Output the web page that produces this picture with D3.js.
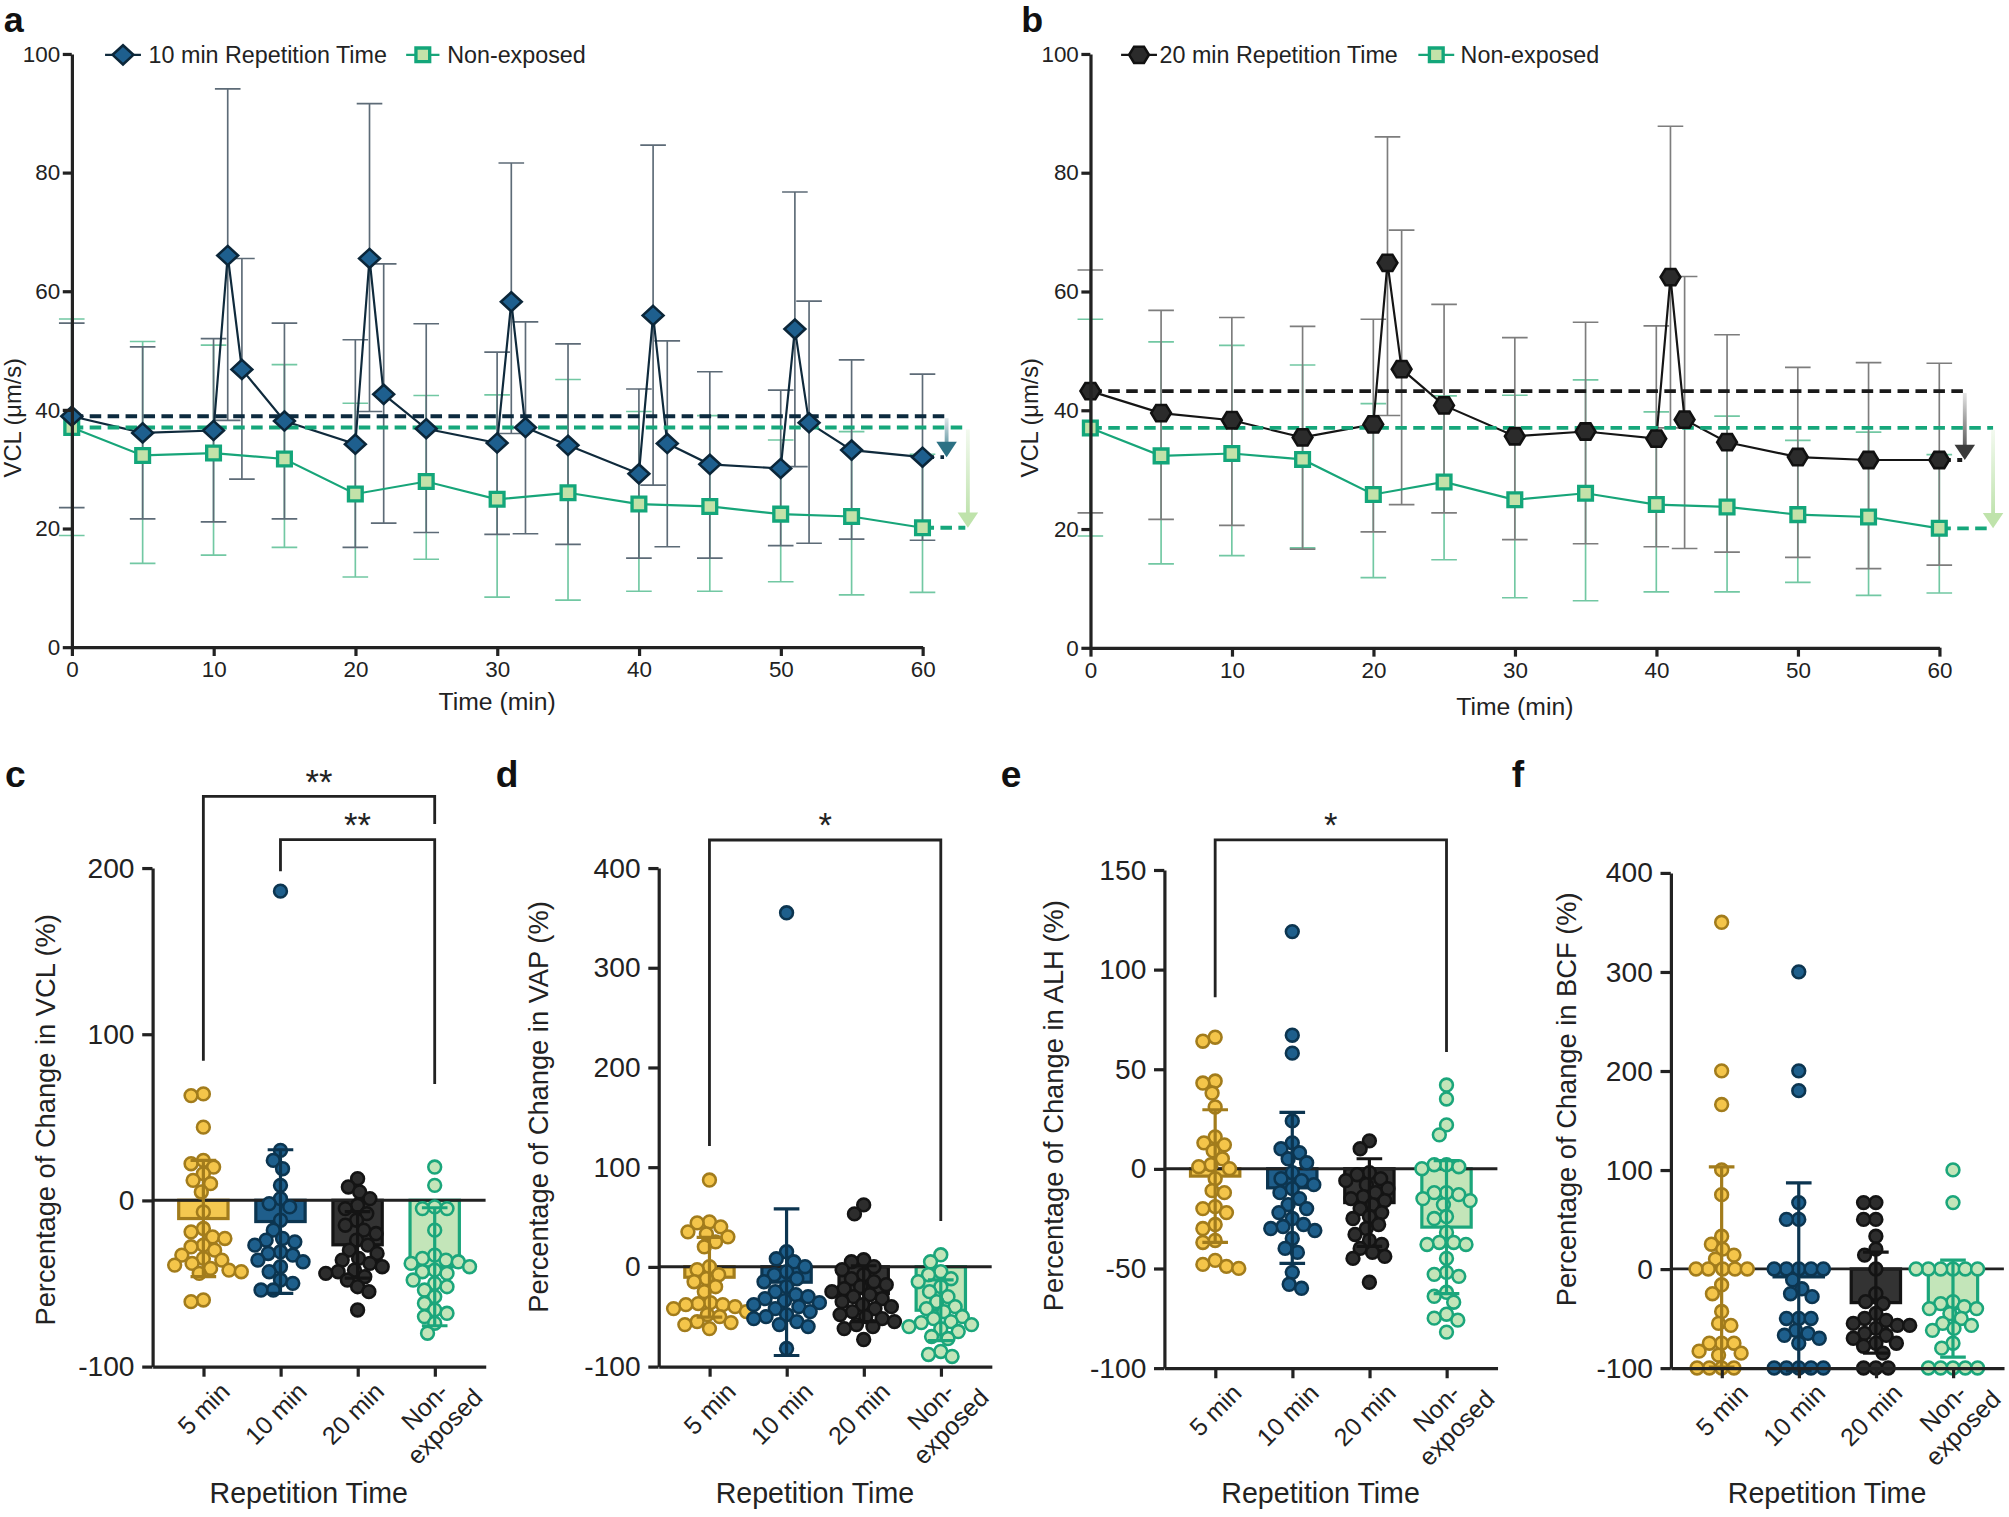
<!DOCTYPE html>
<html><head><meta charset="utf-8">
<script src="https://cdn.jsdelivr.net/npm/d3@7/dist/d3.min.js"></script>
<style>html,body{margin:0;padding:0;background:#fff}svg{display:block}</style>
</head><body>
<svg id="chart" width="2009" height="1517" viewBox="0 0 1568 1184" xmlns="http://www.w3.org/2000/svg"></svg>
<script>
// ================= DATA =================
// Panel a : 10 min repetition time (VCL, µm/s)
const timesA = [0,5,10,11,12,15,20,21,22,25,30,31,32,35,40,41,42,45,50,51,52,55,60];
const meanA  = [38.9,36.1,36.5,66.0,46.8,38.1,34.2,65.5,42.6,36.8,34.4,58.2,37.0,34.0,29.2,55.9,34.3,30.8,30.1,53.6,37.8,33.2,32.0];
const upperA = [54.6,50.6,52.0,94.1,65.5,54.6,51.8,91.6,64.6,54.5,49.7,81.6,54.8,51.1,43.5,84.6,51.6,46.4,43.3,76.7,58.3,48.4,46.0];
const lowerA = [23.5,21.6,21.1,38.2,28.3,21.6,16.8,39.7,20.9,19.3,19.0,36.0,19.1,17.3,15.0,27.3,16.9,15.0,17.1,30.4,17.5,18.2,18.0];
// Panel b : 20 min repetition time
const timesB = [0,5,10,15,20,21,22,25,30,35,40,41,42,45,50,55,60];
const meanB  = [43.2,39.5,38.3,35.4,37.6,64.8,46.9,40.8,35.6,36.4,35.2,62.4,38.4,34.6,32.1,31.6,31.6];
const upperB = [63.6,56.8,55.6,54.1,55.3,86.0,70.3,57.8,52.2,54.8,54.2,87.8,62.5,52.7,47.2,48.0,47.9];
const lowerB = [22.7,21.6,20.6,16.6,19.5,39.1,24.1,22.7,18.2,17.5,17.0,37.0,16.7,16.1,15.2,13.3,13.9];
// Non-exposed (same in a and b)
const timesNE = [0,5,10,15,20,25,30,35,40,45,50,55,60];
const meanNE  = [37.0,32.3,32.7,31.7,25.8,27.9,24.9,26.0,24.1,23.7,22.4,22.0,20.1];
const upperNE = [55.3,51.5,50.9,47.6,41.1,42.4,42.5,45.1,39.7,39.0,34.9,36.3,32.5];
const lowerNE = [18.8,14.1,15.5,16.8,11.8,14.8,8.4,7.9,9.4,9.4,11.0,8.8,9.2];
const timeTicks = [0,10,20,30,40,50,60];
const vclTicks = [0,20,40,60,80,100];

// Bottom panels
const categories = ["5 min","10 min","20 min","Non-exposed"];
// c: VCL
const vcl5  = [64,63,44,24,22,20,16,12,10,5,-7,-17,-19,-22,-23,-27,-28,-30,-33,-35,-36,-38,-39,-41,-42,-43,-44,-60,-61];
const vcl10 = [186,30,24,19,9,1,-2,-4,-12,-18,-23,-24,-25,-27,-31,-32,-33,-36,-37,-40,-43,-48,-50,-54,-54];
const vcl20 = [13,8,5,1,-3,-5,-8,-12,-15,-18,-20,-24,-27,-30,-32,-35,-36,-38,-40,-42,-43,-44,-46,-48,-52,-55,-66];
const vclNE = [20,9,-4,-5,-5,-18,-33,-35,-36,-37,-38,-40,-42,-43,-44,-48,-50,-52,-54,-58,-62,-66,-68,-70,-74,-80];
const vclMean = [-11,-12.8,-26.8,-40];
const vclSD   = [35,43.2,20,35.5];
const vclTicks2 = [-100,0,100,200];
const vclBrackets = [[0,3,243,84,226.5,"**"],[1,3,217,198,70,"**"]];
// d: VAP
const vap5  = [87,45,44,40,35,33,30,25,20,0,-3,-8,-12,-15,-20,-25,-36,-37,-38,-38,-40,-42,-45,-48,-50,-55,-56,-58,-62];
const vap10 = [355,15,8,5,0,-5,-8,-12,-15,-20,-25,-28,-30,-32,-34,-36,-38,-40,-42,-45,-48,-50,-52,-55,-58,-60,-82];
const vap20 = [62,53,7,5,0,-3,-8,-12,-15,-18,-20,-22,-25,-28,-30,-32,-35,-38,-40,-42,-45,-48,-50,-52,-55,-58,-60,-62,-73];
const vapNE = [12,5,-5,-8,-12,-15,-20,-25,-30,-35,-40,-42,-45,-50,-52,-55,-56,-58,-60,-62,-65,-70,-72,-85,-88,-90];
const vapMean = [-10.5,-15.5,-27,-43.6];
const vapSD   = [40,73.5,28,30.4];
const vapTicks = [-100,0,100,200,300,400];
const vapBrackets = [[0,3,428,121,46,"*"]];
// e: ALH
const alh5  = [66,64,44,43,38,31,16,13,12,9,5,2,1,0,-5,-11,-12,-19,-20,-22,-28,-30,-36,-37,-46,-49,-48,-50];
const alh10 = [119,67,58,24,13,10,8,5,3,-2,-5,-6,-8,-10,-12,-15,-18,-20,-22,-25,-28,-29,-30,-31,-35,-40,-42,-52,-58,-60];
const alh20 = [14,10,-2,-3,-5,-6,-8,-10,-12,-14,-15,-16,-18,-20,-22,-24,-25,-28,-30,-33,-36,-38,-40,-42,-44,-45,-57];
const alhNE = [42,35,22,17,2,2,1,0,-12,-12,-13,-15,-16,-18,-24,-25,-32,-37,-37,-38,-38,-45,-52,-53,-54,-62,-64,-67,-73,-75,-76,-82];
const alhMean = [-3.7,-9.6,-17,-29.3];
const alhSD   = [33.3,37.9,22,33.4];
const alhTicks = [-100,-50,0,50,100,150];
const alhBrackets = [[0,3,165,86,58.6,"*"]];
// f: BCF
const bcf5  = [350,200,166,100,75,33,25,20,14,10,0,0,0,0,0,-16,-25,-43,-55,-57,-75,-75,-75,-83,-85,-87,-100,-100,-100,-100];
const bcf10 = [300,200,180,67,50,50,0,0,0,0,0,-11,-20,-25,-28,-50,-50,-50,-62,-65,-67,-70,-75,-100,-100,-100,-100,-100];
const bcf20 = [67,67,50,50,33,20,14,0,-25,-33,-35,-45,-50,-52,-55,-57,-57,-60,-65,-67,-70,-75,-75,-78,-85,-100,-100,-100];
const bcfNE = [100,67,0,0,0,0,0,0,-33,-35,-38,-40,-40,-45,-50,-55,-57,-60,-62,-75,-80,-100,-100,-100,-100,-100];
const bcfMean = [2,-8,-34,-40];
const bcfSD   = [101,95,51,49];
const bcfTicks = [-100,0,100,200,300,400];

// ================= DRAWING =================
const FONT = "'Liberation Sans', Arial, Helvetica, sans-serif";
const INK = "#222";
const svg = d3.select('#chart');
svg.append('rect').attr('width',1568).attr('height',1184).attr('fill','#fff');
const defs = svg.append('defs');

const symDiamond = { draw(ctx, size){ const rx = Math.sqrt(size/2), ry = rx*0.92;
  ctx.moveTo(0,-ry); ctx.lineTo(rx,0); ctx.lineTo(0,ry); ctx.lineTo(-rx,0); ctx.closePath(); } };
const symHex = { draw(ctx, size){ const r = Math.sqrt(size/2.598);
  for (let k=0;k<6;k++){ const a=k*Math.PI/3; const px=r*Math.cos(a), py=r*Math.sin(a)*0.95;
    if(k) ctx.lineTo(px,py); else ctx.moveTo(px,py);} ctx.closePath(); } };

function styleAxis(sel, fs){
  sel.select('.domain').attr('stroke',INK).attr('stroke-width',2.5);
  sel.selectAll('.tick line').attr('stroke',INK).attr('stroke-width',2.5);
  sel.selectAll('.tick text').attr('fill',INK).attr('font-family',FONT).attr('font-size',fs);
}

function linePanel(cfg){
  const g = svg.append('g');
  const x = d3.scaleLinear().domain([0,60]).range(cfg.xRange);
  const y = d3.scaleLinear().domain([0,100]).range(cfg.yRange);
  const ne = timesNE.map((t,i)=>({t, m:meanNE[i], u:upperNE[i], l:lowerNE[i]}));
  const ex = cfg.times.map((t,i)=>({t, m:cfg.mean[i], u:cfg.upper[i], l:cfg.lower[i]}));
  const cap = 10;
  function err(data, color){
    g.append('g').attr('stroke',color).attr('stroke-width',1.3).attr('fill','none')
      .selectAll('path').data(data).join('path')
      .attr('d', d => `M${x(d.t)},${y(d.u)}V${y(d.l)}M${x(d.t)-cap},${y(d.u)}H${x(d.t)+cap}M${x(d.t)-cap},${y(d.l)}H${x(d.t)+cap}`);
  }
  err(ne, '#72c8a3');
  err(ex, cfg.errColor);
  const line = d3.line().x(d=>x(d.t)).y(d=>y(d.m));
  g.append('path').datum(ne).attr('d',line).attr('fill','none').attr('stroke','#17a579').attr('stroke-width',1.7);
  g.append('path').datum(ex).attr('d',line).attr('fill','none').attr('stroke',cfg.lineColor).attr('stroke-width',1.7);

  function ref(data, endT, dashColor, gFrom, gTo, head, id){
    const first = data[0], last = data[data.length-1];
    const y0 = y(first.m), y1 = y(last.m), xe = x(endT);
    g.append('line').attr('x1',x(first.t)).attr('x2',xe).attr('y1',y0).attr('y2',y0)
      .attr('stroke',dashColor).attr('stroke-width',3).attr('stroke-dasharray','9,5');
    g.append('line').attr('x1',x(last.t)).attr('x2',xe-2).attr('y1',y1).attr('y2',y1)
      .attr('stroke',dashColor).attr('stroke-width',3).attr('stroke-dasharray','9,5');
    const gr = defs.append('linearGradient').attr('id',id).attr('gradientUnits','userSpaceOnUse')
      .attr('x1',0).attr('x2',0).attr('y1',y0).attr('y2',y1);
    gr.append('stop').attr('offset',0).attr('stop-color',gFrom);
    gr.append('stop').attr('offset',1).attr('stop-color',gTo);
    const hh = 12, hw = 8;
    g.append('line').attr('x1',xe).attr('x2',xe).attr('y1',y0+1.5).attr('y2',y1-hh+1)
      .attr('stroke',`url(#${id})`).attr('stroke-width',3);
    g.append('path').attr('d',`M${xe-hw},${y1-hh}L${xe+hw},${y1-hh}L${xe},${y1}Z`).attr('fill',head);
  }
  ref(ex, cfg.endDark, cfg.dashColor, cfg.arrowFrom, cfg.arrowTo, cfg.arrowHead, cfg.id+'d');
  ref(ne, cfg.endGreen, '#16a77b', '#f4faf1', '#b7dfa3', '#bfe3ab', cfg.id+'g');

  const sq = d3.symbol().type(d3.symbolSquare).size(115);
  g.append('g').selectAll('path').data(ne).join('path')
    .attr('transform', d=>`translate(${x(d.t)},${y(d.m)})`).attr('d', sq)
    .attr('fill','#c3e2a9').attr('stroke','#13a67a').attr('stroke-width',2.6);
  const ms = d3.symbol().type(cfg.symbol).size(cfg.symSize);
  g.append('g').selectAll('path').data(ex).join('path')
    .attr('transform', d=>`translate(${x(d.t)},${y(d.m)})`).attr('d', ms)
    .attr('fill',cfg.markFill).attr('stroke',cfg.markStroke).attr('stroke-width',2);

  const ay = g.append('g').attr('transform',`translate(${cfg.xRange[0]},0)`)
    .call(d3.axisLeft(y).tickValues(vclTicks).tickSize(7).tickSizeOuter(0).tickPadding(2).tickFormat(d=>String(d)));
  styleAxis(ay, 17.5);
  const ax = g.append('g').attr('transform',`translate(0,${cfg.yRange[0]})`)
    .call(d3.axisBottom(x).tickValues(timeTicks).tickSize(7).tickSizeOuter(0).tickPadding(4).tickFormat(d=>String(d)));
  styleAxis(ax, 17.5);

  g.append('text').attr('x',(cfg.xRange[0]+cfg.xRange[1])/2 + cfg.titleDx).attr('y',cfg.titleY)
    .attr('text-anchor','middle').attr('font-family',FONT).attr('font-size',19.3).attr('fill',INK).text('Time (min)');
  g.append('text').attr('transform',`translate(${cfg.yTitleX},326) rotate(-90)`)
    .attr('text-anchor','middle').attr('font-family',FONT).attr('font-size',18.5).attr('fill',INK).text('VCL (\u03bcm/s)');
  g.append('text').attr('x',cfg.letterX).attr('y',25).attr('font-family',FONT).attr('font-weight','bold')
    .attr('font-size',28).attr('fill','#111').text(cfg.letter);

  // legend
  const lg = g.append('g');
  const ly = 42.8;
  const L = cfg.legend;
  lg.append('line').attr('x1',L[0]).attr('x2',L[1]).attr('y1',ly).attr('y2',ly).attr('stroke',cfg.lineColor).attr('stroke-width',1.7);
  lg.append('path').attr('transform',`translate(${(L[0]+L[1])/2},${ly})`).attr('d',ms)
    .attr('fill',cfg.markFill).attr('stroke',cfg.markStroke).attr('stroke-width',2);
  lg.append('text').attr('x',L[2]).attr('y',ly+6.3).attr('font-family',FONT).attr('font-size',18.2).attr('fill',INK).text(cfg.label);
  lg.append('line').attr('x1',L[3]).attr('x2',L[4]).attr('y1',ly).attr('y2',ly).attr('stroke','#17a579').attr('stroke-width',1.7);
  lg.append('path').attr('transform',`translate(${(L[3]+L[4])/2},${ly})`).attr('d',sq)
    .attr('fill','#c3e2a9').attr('stroke','#13a67a').attr('stroke-width',2.6);
  lg.append('text').attr('x',L[5]).attr('y',ly+6.3).attr('font-family',FONT).attr('font-size',18.2).attr('fill',INK).text('Non-exposed');
}

linePanel({ id:'a', letter:'a', letterX:3, xRange:[56,720], yRange:[505,42],
  times:timesA, mean:meanA, upper:upperA, lower:lowerA,
  errColor:'#5d6b77', lineColor:'#0f2a3c', dashColor:'#0c2a3e',
  arrowFrom:'#e6ecee', arrowTo:'#2f7686', arrowHead:'#2c7184',
  endDark:61.7, endGreen:63.2, symbol:symDiamond, symSize:132,
  markFill:'#1e5f8e', markStroke:'#0b2639', label:'10 min Repetition Time',
  legend:[82,110,116,317,343,349], titleDx:0, titleY:554, yTitleX:16 });
linePanel({ id:'b', letter:'b', letterX:797, xRange:[851,1513.6], yRange:[505.5,42],
  times:timesB, mean:meanB, upper:upperB, lower:lowerB,
  errColor:'#7d7d7d', lineColor:'#151515', dashColor:'#1a1a1a',
  arrowFrom:'#e8e8e8', arrowTo:'#3a3a3a', arrowHead:'#3a3a3a',
  endDark:61.8, endGreen:63.8, symbol:symHex, symSize:155,
  markFill:'#2b2b2b', markStroke:'#111', label:'20 min Repetition Time',
  legend:[875,903,905,1107,1135,1140], titleDx:0, titleY:558, yTitleX:810 });

// ---------- scatter / bar panels ----------
const grpFill   = ['#f4c54a','#1e5f8c','#2d2d2d','#c3e5b9'];
const grpStroke = ['#a27c1c','#0c3550','#141414','#1ba67b'];
const barFill   = ['#f4c850','#1f5e8b','#333333','#c3e5b9'];

function swarm(values, y, r){
  const pts = values.map(v => ({v, py:y(v), dx:0})).sort((a,b)=>a.py-b.py);
  const placed = [];
  const minD = 2*r*0.95;
  pts.forEach(p => {
    for (let k=0;k<200;k++){
      const off = (k%2===0 ? 1 : -1) * Math.ceil(k/2) * 0.8;
      const ok = placed.every(q => (q.dx-off)**2 + (q.py-p.py)**2 >= minD*minD);
      if (ok){ p.dx = off; break; }
    }
    placed.push(p);
  });
  return pts;
}

function scatterPanel(cfg){
  const g = svg.append('g');
  const x = d3.scalePoint().domain(categories).range([cfg.axisX, cfg.axisX+260]).padding(0.66);
  const y = d3.scaleLinear().domain(cfg.domain).range(cfg.yRange);
  const groups = categories.map((c,i)=>({c, i, vals:cfg.values[i], mean:cfg.means[i], sd:cfg.sds[i]}));
  const bw = 38.5;
  g.append('g').selectAll('rect').data(groups).join('rect')
    .attr('x', d=>x(d.c)-bw/2).attr('width', bw)
    .attr('y', d=>Math.min(y(0), y(d.mean))).attr('height', d=>Math.abs(y(d.mean)-y(0)))
    .attr('fill', d=>barFill[d.i]).attr('stroke', d=>grpStroke[d.i]).attr('stroke-width',2.5);
  g.append('line').attr('x1',cfg.axisX).attr('x2',cfg.axisX+260).attr('y1',y(0)).attr('y2',y(0))
    .attr('stroke',INK).attr('stroke-width',2.2);
  const r = 5;
  groups.forEach(gr => {
    const pts = swarm(gr.vals, y, r);
    g.append('g').selectAll('circle').data(pts).join('circle')
      .attr('cx', p=>x(gr.c)+p.dx).attr('cy', p=>p.py).attr('r', r)
      .attr('fill', grpFill[gr.i]).attr('stroke', grpStroke[gr.i]).attr('stroke-width',2);
  });
  const cap = 10;
  g.append('g').selectAll('path').data(groups).join('path')
    .attr('d', d=>{ const cx=x(d.c), yt=y(d.mean+d.sd), yb=y(d.mean-d.sd);
      return `M${cx},${yt}V${yb}M${cx-cap},${yt}H${cx+cap}M${cx-cap},${yb}H${cx+cap}`; })
    .attr('fill','none').attr('stroke', d=>grpStroke[d.i]).attr('stroke-width',2.5);

  // brackets
  (cfg.brackets||[]).forEach(b => {
    const [ia, ib, top, lEnd, rEnd, lab] = b;
    const xa = x(categories[ia]), xb = x(categories[ib]);
    g.append('path').attr('d',`M${xa},${y(lEnd)}V${y(top)}H${xb}V${y(rEnd)}`)
      .attr('fill','none').attr('stroke',INK).attr('stroke-width',2.2);
    g.append('text').attr('x',(xa+xb)/2).attr('y',y(top)-2).attr('text-anchor','middle')
      .attr('font-family',FONT).attr('font-size',27).attr('fill',INK).text(lab);
  });

  const ay = g.append('g').attr('transform',`translate(${cfg.axisX},0)`)
    .call(d3.axisLeft(y).tickValues(cfg.ticks).tickSize(8).tickSizeOuter(0).tickPadding(6).tickFormat(d=>String(d)));
  styleAxis(ay, 22);
  const ax = g.append('g').attr('transform',`translate(0,${cfg.yRange[0]})`)
    .call(d3.axisBottom(x).tickSize(8).tickSizeOuter(0).tickFormat(''));
  styleAxis(ax, 19);

  // rotated category labels
  const yb = cfg.yRange[0];
  const fs = 19.5;
  categories.forEach(c => {
    const parts = c.includes('-') ? [c.split('-')[0]+'-', c.split('-')[1]] : [c];
    if (parts.length === 1){
      g.append('text').attr('transform',`translate(${x(c)+17},${yb+16}) rotate(-45)`)
        .attr('text-anchor','end').attr('dy','0.35em').attr('font-family',FONT).attr('font-size',fs)
        .attr('fill',INK).text(c);
    } else {
      const tg = g.append('g').attr('transform',`translate(${x(c)+26},${yb+13}) rotate(-45)`);
      const t2 = tg.append('text').attr('x',0).attr('y',11).attr('dy','0.35em').attr('text-anchor','end')
        .attr('font-family',FONT).attr('font-size',fs).attr('fill',INK).text(parts[1]);
      const w = t2.node().getComputedTextLength();
      tg.append('text').attr('x',-w/2).attr('y',-11).attr('dy','0.35em').attr('text-anchor','middle')
        .attr('font-family',FONT).attr('font-size',fs).attr('fill',INK).text(parts[0]);
    }
  });
  g.append('text').attr('x',cfg.axisX+122).attr('y',1173).attr('text-anchor','middle')
    .attr('font-family',FONT).attr('font-size',22.3).attr('fill',INK).text('Repetition Time');
  g.append('text').attr('transform',`translate(${cfg.yTitle[0]},${cfg.yTitle[1]}) rotate(-90)`)
    .attr('text-anchor','middle').attr('font-family',FONT).attr('font-size',21.3).attr('fill',INK).text(cfg.title);
  g.append('text').attr('x',cfg.letterX).attr('y',614).attr('font-family',FONT).attr('font-weight','bold')
    .attr('font-size',29).attr('fill','#111').text(cfg.letter);
}

scatterPanel({ letter:'c', letterX:4, axisX:119, domain:[-100,200], yRange:[1066.5,677.4], ticks:vclTicks2,
  values:[vcl5,vcl10,vcl20,vclNE], means:vclMean, sds:vclSD, brackets:vclBrackets,
  title:'Percentage of Change in VCL (%)', yTitle:[43,874] });
scatterPanel({ letter:'d', letterX:387, axisX:514, domain:[-100,400], yRange:[1066.5,677.4], ticks:vapTicks,
  values:[vap5,vap10,vap20,vapNE], means:vapMean, sds:vapSD, brackets:vapBrackets,
  title:'Percentage of Change in VAP (%)', yTitle:[428,864] });
scatterPanel({ letter:'e', letterX:781, axisX:908.7, domain:[-100,150], yRange:[1067.7,678.9], ticks:alhTicks,
  values:[alh5,alh10,alh20,alhNE], means:alhMean, sds:alhSD, brackets:alhBrackets,
  title:'Percentage of Change in ALH (%)', yTitle:[830,863] });
scatterPanel({ letter:'f', letterX:1180, axisX:1304, domain:[-100,400], yRange:[1067.7,681.2], ticks:bcfTicks,
  values:[bcf5,bcf10,bcf20,bcfNE], means:bcfMean, sds:bcfSD, brackets:[],
  title:'Percentage of Change in BCF (%)', yTitle:[1230,858] });
</script>
</body></html>
